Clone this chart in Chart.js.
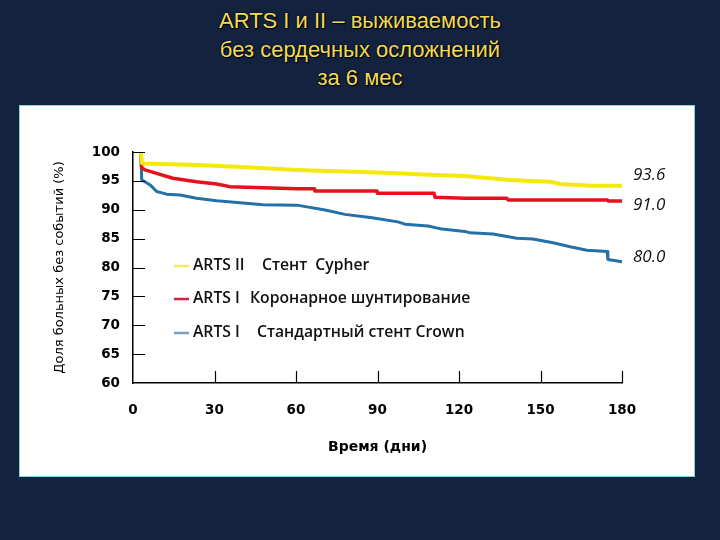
<!DOCTYPE html>
<html>
<head>
<meta charset="utf-8">
<script src="https://cdn.jsdelivr.net/npm/chart.js@4.4.1/dist/chart.umd.min.js"></script>
<style>
body {
    margin: 0;
    width: 720px;
    height: 540px;
    background: #13223f;
    overflow: hidden;
    position: relative;
    font-family: "Liberation Sans", Arial, sans-serif;
}
#titulo {
    position: absolute;
    top: 7px;
    left: 0;
    width: 720px;
    text-align: center;
    color: #f2da5a;
    font-size: 22px;
    line-height: 28.5px;
    text-shadow: 0 0 2px #000, 1px 1px 1px #000;
}
#panel {
    position: absolute;
    left: 19px;
    top: 105px;
    width: 674px;
    height: 370px;
    background: #fff;
    border: 1px solid #7fd3dc;
}
</style>
</head>
<body>
<div id="titulo">ARTS I и II – выживаемость<br>без сердечных осложнений<br>за 6 мес</div>
<div id="panel"><canvas id="grafico" width="674" height="370"></canvas></div>
<script>
// ARTS II - стент Cypher
const diasArts2 = [2.9, 3.3, 3.7, 23.6, 42, 60.4, 92.8, 111.2, 122.2, 138.8, 153.5, 157.2, 169.3, 180]
const valoresArts2 = [100, 98.1, 98.0, 97.75, 97.35, 96.9, 96.4, 96.0, 95.85, 95.15, 94.85, 94.45, 94.15, 94.15]

// ARTS I - коронарное шунтирование
const diasShunt = [2.9, 3.2, 4.4, 8.7, 14.7, 23.4, 30.8, 35.7, 47.9, 60.3, 66.8, 67, 89.8, 90, 110.8, 111.2, 122.2, 137.6, 138, 174.6, 175, 180]
const valoresShunt = [100, 97.3, 96.9, 96.3, 95.45, 94.85, 94.45, 94.0, 93.8, 93.65, 93.65, 93.25, 93.25, 92.85, 92.85, 92.15, 92.0, 92.0, 91.7, 91.7, 91.5, 91.5]

// ARTS I - стандартный стент Crown
const diasCrown = [2.9, 3.2, 4.4, 6.3, 8.7, 12.4, 17.3, 23.4, 30.8, 39.4, 47.9, 60.3, 70.7, 78, 88, 97.5, 100.1, 108.6, 113.7, 122.2, 124, 132.5, 141.3, 147.2, 154.6, 160.9, 167.1, 174.5, 174.8, 180]
const valoresCrown = [100, 95.2, 94.85, 94.3, 93.15, 92.7, 92.55, 92.0, 91.55, 91.2, 90.85, 90.8, 89.95, 89.2, 88.6, 87.9, 87.5, 87.2, 86.65, 86.25, 86.0, 85.8, 85.05, 84.95, 84.3, 83.6, 83.0, 82.75, 81.4, 81.0]

const ticksX = [0, 30, 60, 90, 120, 150, 180]
const ticksY = [60, 65, 70, 75, 80, 85, 90, 95, 100]

const leyendaGrupos = ["ARTS II", "ARTS I", "ARTS I"]
const leyendaTextos = ["Стент  Cypher", "Коронарное шунтирование", "Стандартный стент Crown"]
const etiquetasFinales = ["93.6", "91.0", "80.0"]

const colores = ["#f4e80c", "#e3121b", "#2470a8"]
const coloresLeyenda = ["#f1ea60", "#d3213a", "#7d9dbf"]

const aPuntos = (dias, valores) => dias.map((d, i) => ({ x: d, y: valores[i] }))

const marcasInternas = {
    id: "marcasInternas",
    afterDraw(chart) {
        const { ctx, chartArea, scales } = chart
        ctx.save()
        ctx.strokeStyle = "#000"
        ctx.lineWidth = 1.2
        ctx.beginPath()
        ticksY.forEach((v) => {
            if (v === 60) return
            const py = Math.round(scales.y.getPixelForValue(v)) + 0.5
            ctx.moveTo(chartArea.left, py)
            ctx.lineTo(chartArea.left + 12, py)
        })
        ticksX.forEach((v) => {
            if (v === 0) return
            const px = Math.round(scales.x.getPixelForValue(v)) + 0.5
            ctx.moveTo(px, chartArea.bottom)
            ctx.lineTo(px, chartArea.bottom - 12)
        })
        ctx.stroke()
        ctx.restore()
    }
}

const leyenda = {
    id: "leyenda",
    afterDraw(chart) {
        const { ctx, chartArea } = chart
        const filas = [114, 147, 181]
        const columnas = [129, 117, 124]
        ctx.save()
        ctx.textBaseline = "middle"
        ctx.font = "600 15.7px 'Open Sans'"
        ctx.fillStyle = "#111"
        leyendaTextos.forEach((texto, i) => {
            const y = chartArea.top + filas[i]
            ctx.strokeStyle = coloresLeyenda[i]
            ctx.lineWidth = 2.5
            ctx.beginPath()
            ctx.moveTo(chartArea.left + 41, y)
            ctx.lineTo(chartArea.left + 56, y)
            ctx.stroke()
            ctx.fillText(leyendaGrupos[i], chartArea.left + 60, y)
            ctx.fillText(texto, chartArea.left + columnas[i], y)
        })
        ctx.restore()
    }
}

const etiquetas = {
    id: "etiquetas",
    afterDatasetsDraw(chart) {
        const { ctx, chartArea } = chart
        const desplazamientos = [-11, 4, -5]
        ctx.save()
        ctx.textBaseline = "middle"
        ctx.font = "italic 17px 'Open Sans'"
        ctx.fillStyle = "#111"
        chart.data.datasets.forEach((ds, i) => {
            const meta = chart.getDatasetMeta(i)
            const ultimo = meta.data[meta.data.length - 1]
            ctx.fillText(etiquetasFinales[i], chartArea.right + 11, ultimo.y + desplazamientos[i])
        })
        ctx.restore()
    }
}

const datasets = [
    { label: "ARTS II", data: aPuntos(diasArts2, valoresArts2), borderColor: colores[0], borderWidth: 4 },
    { label: "ARTS I CABG", data: aPuntos(diasShunt, valoresShunt), borderColor: colores[1], borderWidth: 3.5 },
    { label: "ARTS I Crown", data: aPuntos(diasCrown, valoresCrown), borderColor: colores[2], borderWidth: 3 }
]

const fuenteEjes = { family: "DejaVu Sans", size: 13.5, weight: "bold" }

const config = {
    type: "line",
    data: { datasets },
    options: {
        responsive: false,
        animation: false,
        layout: { padding: { top: 46, right: 72, left: 0, bottom: 0 } },
        elements: { point: { radius: 0 }, line: { tension: 0, borderJoinStyle: "round" } },
        datasets: { line: { clip: 5 } },
        plugins: { legend: { display: false }, tooltip: { enabled: false } },
        scales: {
            x: {
                type: "linear",
                min: 0,
                max: 180,
                afterBuildTicks: (s) => { s.ticks = ticksX.map((v) => ({ value: v })) },
                afterFit: (s) => { s.height = 93 },
                grid: { display: false, drawTicks: false },
                border: { display: true, color: "#000", width: 1.5 },
                ticks: { padding: 19, color: "#000", font: fuenteEjes },
                title: {
                    display: true,
                    text: "Время (дни)",
                    color: "#000",
                    font: { family: "DejaVu Sans", size: 14, weight: "bold" },
                    padding: { top: 0, bottom: 20 }
                }
            },
            y: {
                min: 60,
                max: 100,
                afterBuildTicks: (s) => { s.ticks = ticksY.map((v) => ({ value: v })) },
                afterFit: (s) => { s.width = 113 },
                grid: { display: false, drawTicks: false },
                border: { display: true, color: "#000", width: 1.5 },
                ticks: { padding: 13, color: "#000", font: fuenteEjes },
                title: {
                    display: true,
                    text: "Доля больных без событий (%)",
                    color: "#000",
                    font: { family: "DejaVu Sans", size: 13 },
                    padding: { top: 32, bottom: 0 }
                }
            }
        }
    },
    plugins: [marcasInternas, leyenda, etiquetas]
}

new Chart(document.getElementById("grafico"), config)
</script>
</body>
</html>
